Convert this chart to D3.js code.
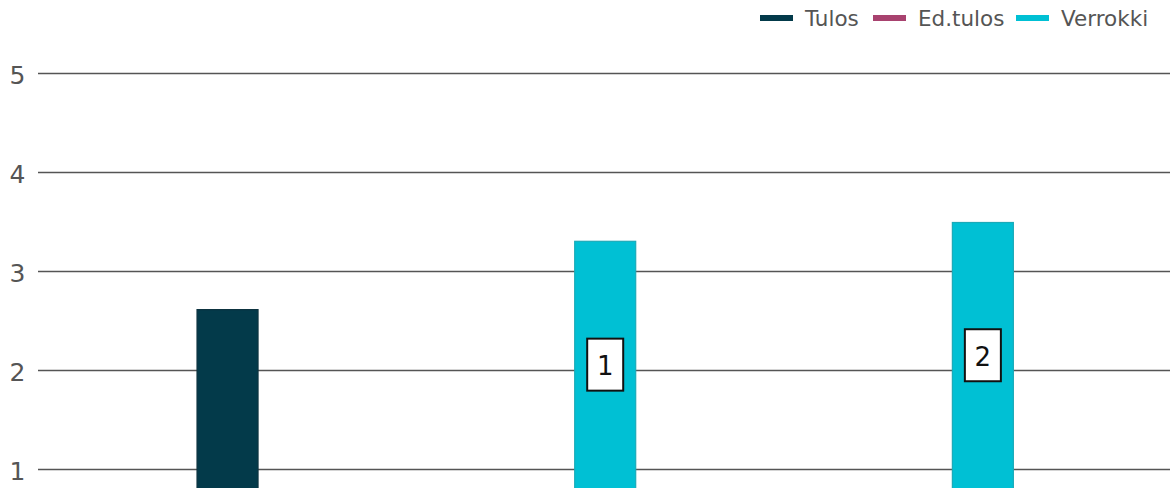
<!DOCTYPE html>
<html><head><meta charset="utf-8">
<script src="https://cdn.jsdelivr.net/npm/d3@7"></script>
<style>body{margin:0;background:#fff}svg{display:block}text{font-family:"DejaVu Sans",sans-serif}</style>
</head><body>
<svg id="c" width="1170" height="488"></svg>
<script>
const categories = ["A", "B", "C"];
const seriesNames = ["Tulos", "Ed.tulos", "Verrokki"];
const seriesColors = ["#033a4a", "#a8426f", "#00c0d4"];
const barSeries = ["Tulos", "Verrokki", "Verrokki"];
const barValues = [2.61, 3.3, 3.49];
const barLabels = [null, "1", "2"];
const yTicks = [1, 2, 3, 4, 5];

(function () {
const svg = d3.select("#c");
const W = 1170, H = 488;
const mLeft = 38, mRight = 1170, mTop = 73, unit = 99;
const y = d3.scaleLinear().domain([1, 5]).range([mTop + 4 * unit, mTop]);
const x = d3.scaleBand().domain(categories).range([mLeft + 0.7, mRight + 1.7]);
const color = d3.scaleOrdinal().domain(seriesNames).range(seriesColors);

const axis = svg.append("g").attr("transform", `translate(${mLeft},0)`)
  .call(d3.axisLeft(y).tickValues(yTicks).tickSize(-(mRight - mLeft)).tickPadding(12.5).tickFormat(d3.format("d")));
axis.select(".domain").remove();
axis.selectAll(".tick line").attr("stroke", "#555").attr("stroke-width", 1.6);
axis.selectAll(".tick text").attr("fill", "#555").attr("font-size", 25).attr("dy", "0.43em");

const bw = 61;
const bars = svg.append("g");
categories.forEach((c, i) => {
  const cx = x(c) + x.bandwidth() / 2;
  const s = barSeries[i];
  const topY = y(barValues[i]);
  bars.append("rect").attr("x", cx - bw / 2).attr("y", topY).attr("width", bw).attr("height", H - topY + 5)
    .attr("fill", color(s)).attr("stroke", s === "Verrokki" ? "#1aaab8" : "#0d3340").attr("stroke-width", 1.2);
  if (barLabels[i]) {
    const my = (topY + H) / 2;
    bars.append("rect").attr("x", cx - 18).attr("y", my - 26).attr("width", 36).attr("height", 52)
      .attr("fill", "#fff").attr("stroke", "#111").attr("stroke-width", 2);
    bars.append("text").attr("x", cx).attr("y", my + 10.5).attr("text-anchor", "middle")
      .attr("font-size", 26).attr("fill", "#111").text(barLabels[i]);
  }
});

const legend = svg.append("g");
const legX = [760, 873, 1016];
seriesNames.forEach((s, i) => {
  legend.append("rect").attr("x", legX[i]).attr("y", 15).attr("width", 33).attr("height", 6).attr("fill", color(s));
  legend.append("text").attr("x", legX[i] + 45).attr("y", 26).attr("font-size", 21.5).attr("fill", "#555").text(s);
});
})();
</script>
</body></html>
